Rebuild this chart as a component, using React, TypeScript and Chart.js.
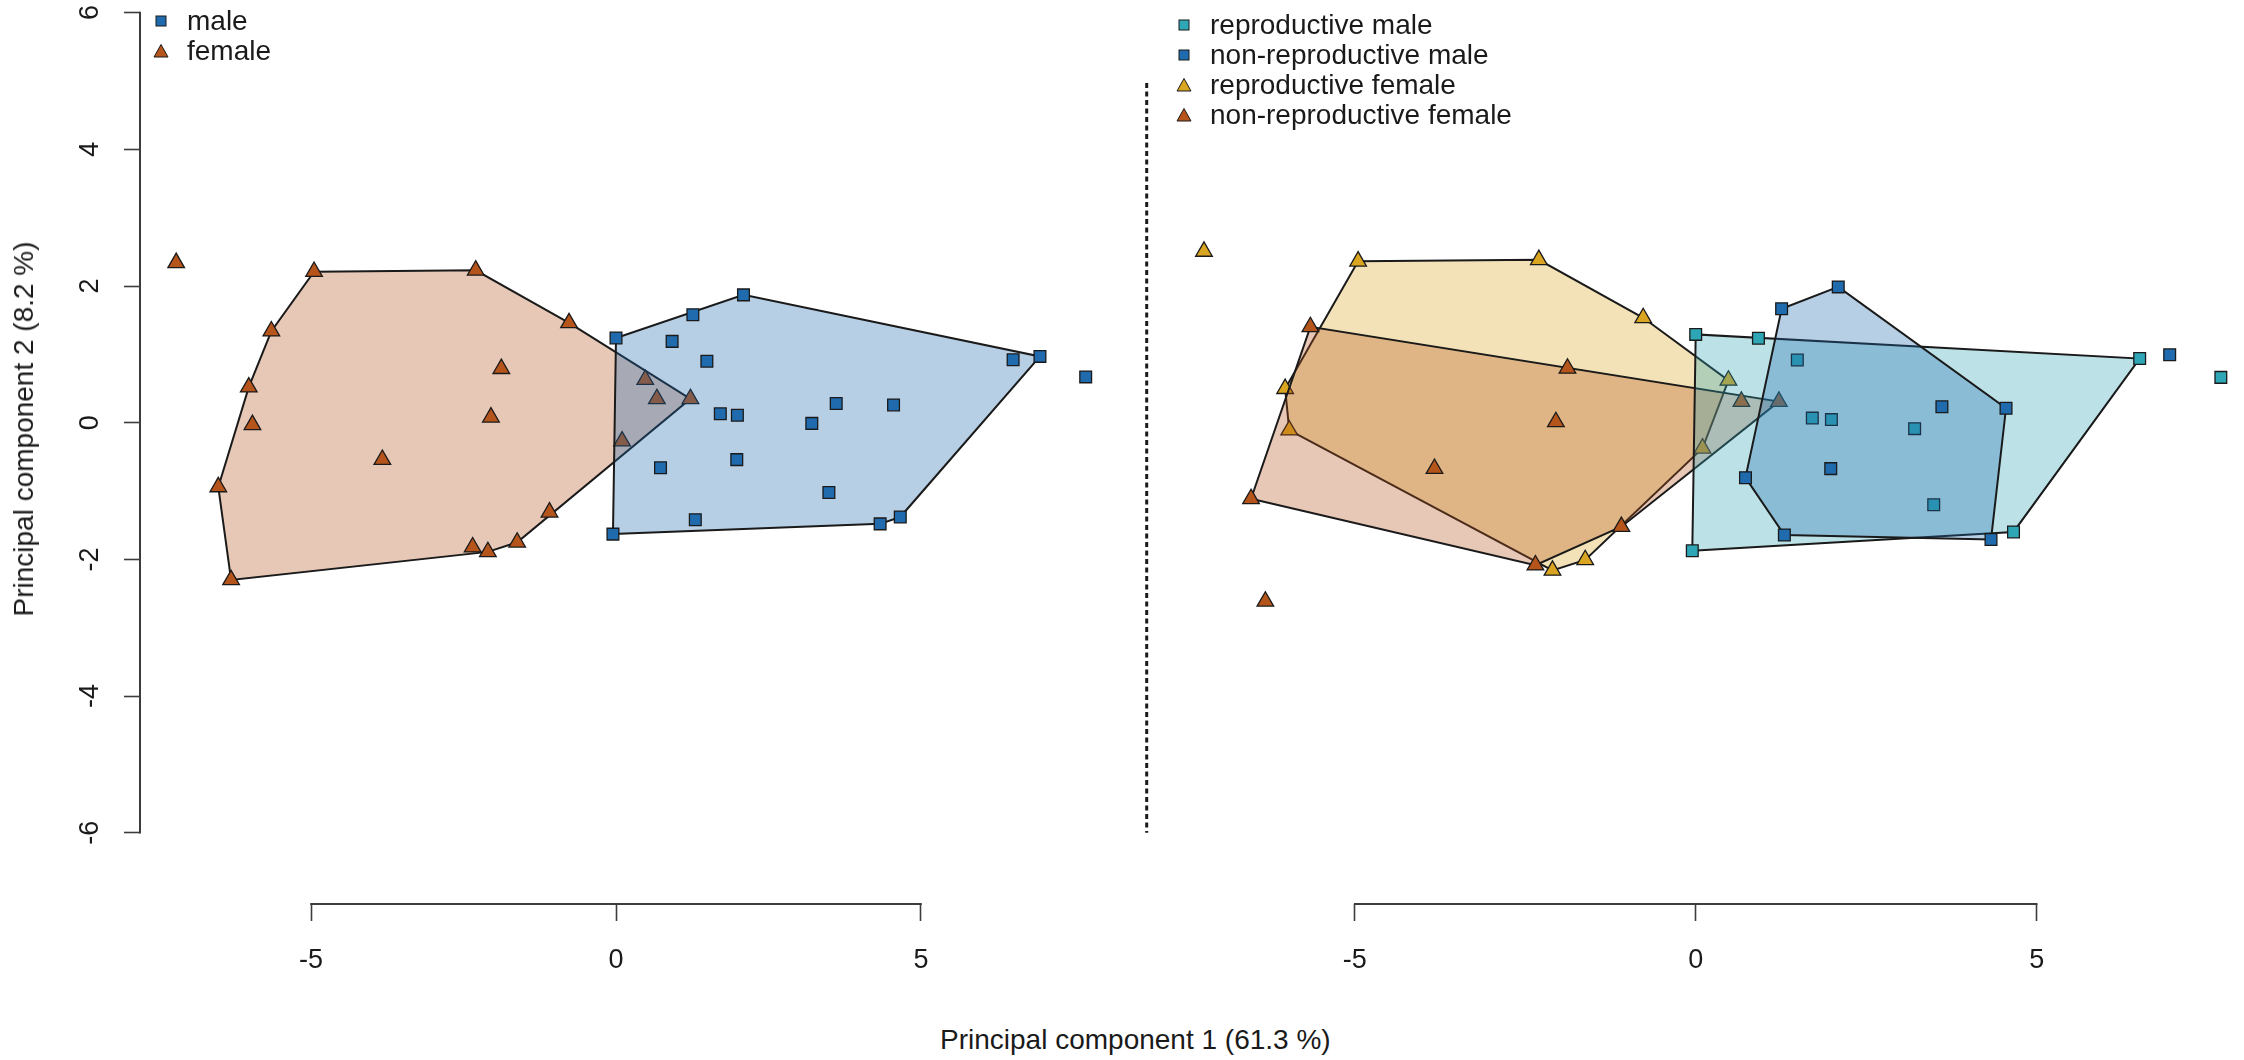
import { useEffect, useRef } from "react";
import { Chart, registerables, type ChartDataset, type Plugin } from "chart.js";

Chart.register(...registerables);

// PCA scores (PC1, PC2).
// The last point of every group lies outside that group's hull in the right panel.
const repMalePC1 = [0.0, 0.92, 1.49, 1.71, 1.99, 3.21, 3.49, 4.66, 6.51, -0.05, 7.7];
const repMalePC2 = [1.24, 1.19, 0.9, 0.13, 0.11, -0.01, -1.02, -1.38, 0.92, -1.63, 0.67];
const nonRepMalePC1 = [1.26, 2.09, 3.61, 4.55, 1.98, 0.73, 1.3, 4.33, 6.95];
const nonRepMalePC2 = [1.58, 1.87, 0.28, 0.26, -0.54, -0.66, -1.42, -1.48, 0.97];
const repFemalePC1 = [-4.95, -2.3, -0.77, -6.02, -5.96, 0.48, 0.1, -2.1, -1.62, -7.21];
const repFemalePC2 = [2.21, 2.23, 1.46, 0.52, -0.03, 0.63, -0.27, -1.89, -1.75, 2.34];
const nonRepFemalePC1 = [-5.65, -1.88, -2.05, -3.83, -6.52, -2.35, -1.09, 0.67, 1.22, -6.31];
const nonRepFemalePC2 = [1.34, 0.79, 0.08, -0.54, -0.94, -1.82, -1.31, 0.35, 0.35, -2.3];

const xTicks = [-5, 0, 5];
const yTicks = [-6, -4, -2, 0, 2, 4, 6];

// dashed separator, in left-panel units
const dividerPC1 = 8.7;
const dividerPC2 = [4.97, -6];

const leftLegend = ["male", "female"];
const rightLegend = ["reproductive male", "non-reproductive male", "reproductive female", "non-reproductive female"];

const FONT = '"Liberation Sans", Arial, Helvetica, sans-serif';
const INK = "#1a1a1a";
const AXIS = "#3c3c3c";

const BLUE = "#1F6BAD";
const TEAL = "#2FA6B6";
const GOLD = "#DAA520";
const BROWN = "#B5541B";

const CANVAS_H = 1000;
const AXIS_Y = 904;

interface Frame {
  left: number;
  width: number;
  x0: number;
  xUnit: number;
  y0: number;
  yUnit: number;
  axisLeft: number;
  showY: boolean;
}

const LEFT_FRAME: Frame = { left: 0, width: 1170, x0: 616, xUnit: 61, y0: 422.7, yUnit: 68.35, axisLeft: 140, showY: true };
const RIGHT_FRAME: Frame = { left: 1150, width: 1094, x0: 1695.7, xUnit: 68.2, y0: 427.9, yUnit: 75.4, axisLeft: 0, showY: false };

type Pt = { x: number; y: number };

function toPoints(xs: number[], ys: number[]): Pt[] {
  return xs.map((x, i) => ({ x, y: ys[i] }));
}

const core = (p: Pt[]) => p.slice(0, -1);

function convexHull(pts: Pt[]): Pt[] {
  const p = [...pts].sort((a, b) => a.x - b.x || a.y - b.y);
  const cross = (o: Pt, a: Pt, b: Pt) => (a.x - o.x) * (b.y - o.y) - (a.y - o.y) * (b.x - o.x);
  const lower: Pt[] = [];
  for (const q of p) {
    while (lower.length >= 2 && cross(lower[lower.length - 2], lower[lower.length - 1], q) <= 0) lower.pop();
    lower.push(q);
  }
  const upper: Pt[] = [];
  for (let i = p.length - 1; i >= 0; i--) {
    const q = p[i];
    while (upper.length >= 2 && cross(upper[upper.length - 2], upper[upper.length - 1], q) <= 0) upper.pop();
    upper.push(q);
  }
  const ring = lower.slice(0, -1).concat(upper.slice(0, -1));
  return [...ring, ring[0]];
}

function fade(hex: string, a: number) {
  const n = parseInt(hex.slice(1), 16);
  return `rgba(${n >> 16}, ${(n >> 8) & 255}, ${n & 255}, ${a})`;
}

function hullSet(members: Pt[], color: string, order: number): ChartDataset {
  return {
    type: "line",
    data: convexHull(members),
    borderColor: INK,
    borderWidth: 2,
    backgroundColor: fade(color, 0.32),
    fill: "shape",
    pointRadius: 0,
    tension: 0,
    order,
  } as ChartDataset;
}

function pointSet(members: Pt[], color: string, style: "rect" | "triangle", order: number): ChartDataset {
  return {
    type: "scatter",
    data: members,
    pointStyle: style,
    pointRadius: style === "rect" ? 8.3 : 9.6,
    backgroundColor: color,
    borderColor: INK,
    borderWidth: 1.3,
    order,
  } as ChartDataset;
}

const repMale = toPoints(repMalePC1, repMalePC2);
const nonRepMale = toPoints(nonRepMalePC1, nonRepMalePC2);
const repFemale = toPoints(repFemalePC1, repFemalePC2);
const nonRepFemale = toPoints(nonRepFemalePC1, nonRepFemalePC2);

// left: sexes pooled, only the reproductive strays stay outside the hulls
const leftDatasets: ChartDataset[] = [
  hullSet([...core(repFemale), ...nonRepFemale], BROWN, 6),
  pointSet([...repFemale, ...nonRepFemale], BROWN, "triangle", 5),
  hullSet([...core(repMale), ...nonRepMale], BLUE, 4),
  pointSet([...repMale, ...nonRepMale], BLUE, "rect", 3),
  {
    type: "line",
    data: dividerPC2.map((y) => ({ x: dividerPC1, y })),
    borderColor: INK,
    borderWidth: 3,
    borderDash: [5, 3.5],
    pointRadius: 0,
    fill: false,
    order: 1,
  } as ChartDataset,
];

const rightDatasets: ChartDataset[] = [
  hullSet(core(repFemale), GOLD, 8),
  pointSet(repFemale, GOLD, "triangle", 7),
  hullSet(core(nonRepFemale), BROWN, 6),
  pointSet(nonRepFemale, BROWN, "triangle", 5),
  hullSet(core(repMale), TEAL, 4),
  pointSet(repMale, TEAL, "rect", 3),
  hullSet(core(nonRepMale), BLUE, 2),
  pointSet(nonRepMale, BLUE, "rect", 1),
];

// R-style axis lines that run from the first to the last tick only
const axisLines: Plugin = {
  id: "axisLines",
  afterDraw(chart) {
    const { ctx, chartArea } = chart;
    const x = chart.scales.x;
    const y = chart.scales.y;
    ctx.save();
    ctx.strokeStyle = AXIS;
    ctx.lineWidth = 2;
    ctx.beginPath();
    ctx.moveTo(x.getPixelForValue(xTicks[0]) - 0.8, chartArea.bottom);
    ctx.lineTo(x.getPixelForValue(xTicks[xTicks.length - 1]) + 0.8, chartArea.bottom);
    if (y.options.display) {
      ctx.moveTo(chartArea.left, y.getPixelForValue(yTicks[yTicks.length - 1]) - 0.8);
      ctx.lineTo(chartArea.left, y.getPixelForValue(yTicks[0]) + 0.8);
    }
    ctx.stroke();
    ctx.restore();
  },
};

function zeroPadding(s: any) {
  s.paddingLeft = 0;
  s.paddingRight = 0;
  s.paddingTop = 0;
  s.paddingBottom = 0;
}

function scalesFor(f: Frame): any {
  const tickFont = { size: 27, family: FONT };
  return {
    x: {
      type: "linear",
      position: "bottom",
      min: (f.left + f.axisLeft - f.x0) / f.xUnit,
      max: (f.left + f.width - f.x0) / f.xUnit,
      afterBuildTicks: (s: any) => {
        s.ticks = xTicks.map((value) => ({ value }));
      },
      afterFit: (s: any) => {
        s.height = CANVAS_H - AXIS_Y;
        zeroPadding(s);
      },
      border: { display: false },
      grid: { drawOnChartArea: false, drawTicks: true, tickLength: 17, tickWidth: 1.6, tickColor: AXIS },
      ticks: { color: INK, font: tickFont, padding: 23, autoSkip: false, maxRotation: 0 },
    },
    y: {
      type: "linear",
      position: "left",
      display: f.showY,
      min: (f.y0 - AXIS_Y) / f.yUnit,
      max: f.y0 / f.yUnit,
      afterBuildTicks: (s: any) => {
        s.ticks = yTicks.map((value) => ({ value }));
      },
      afterFit: (s: any) => {
        s.width = f.axisLeft;
        zeroPadding(s);
      },
      border: { display: false },
      grid: { drawOnChartArea: false, drawTicks: true, tickLength: 16, tickWidth: 1.6, tickColor: AXIS },
      ticks: {
        color: INK,
        font: tickFont,
        padding: 21,
        minRotation: 90,
        maxRotation: 90,
        crossAlign: "center",
        autoSkip: false,
      },
    },
  };
}

function Panel({ frame, datasets }: { frame: Frame; datasets: ChartDataset[] }) {
  const canvasRef = useRef<HTMLCanvasElement>(null);

  useEffect(() => {
    const canvas = canvasRef.current;
    if (!canvas) return;
    const chart = new Chart(canvas, {
      type: "scatter",
      data: { datasets: datasets as any },
      options: {
        responsive: false,
        animation: false,
        events: [],
        layout: { padding: 0, autoPadding: false },
        plugins: { legend: { display: false }, tooltip: { enabled: false } },
        scales: scalesFor(frame),
      },
      plugins: [axisLines],
    });
    return () => chart.destroy();
  }, [frame, datasets]);

  return (
    <canvas
      ref={canvasRef}
      width={frame.width}
      height={CANVAS_H}
      style={{ position: "absolute", left: frame.left, top: 0, width: frame.width, height: CANVAS_H }}
    />
  );
}

function Marker({ shape, color }: { shape: "rect" | "triangle"; color: string }) {
  return (
    <svg width={20} height={20} style={{ flex: "none" }}>
      {shape === "rect" ? (
        <rect x={5} y={5} width={10} height={10} fill={color} stroke={INK} strokeWidth={1} />
      ) : (
        <polygon points="10,3.5 17,16 3,16" fill={color} stroke={INK} strokeWidth={1} />
      )}
    </svg>
  );
}

function LegendRow({ x, y, label, shape, color }: { x: number; y: number; label: string; shape: "rect" | "triangle"; color: string }) {
  return (
    <div
      style={{
        position: "absolute",
        left: x - 10,
        top: y - 15,
        height: 30,
        display: "flex",
        alignItems: "center",
        whiteSpace: "nowrap",
        fontSize: 28,
        lineHeight: "30px",
      }}
    >
      <Marker shape={shape} color={color} />
      <span style={{ marginLeft: 16 }}>{label}</span>
    </div>
  );
}

const leftMarks: ["rect" | "triangle", string][] = [
  ["rect", BLUE],
  ["triangle", BROWN],
];
const rightMarks: ["rect" | "triangle", string][] = [
  ["rect", TEAL],
  ["rect", BLUE],
  ["triangle", GOLD],
  ["triangle", BROWN],
];

export default function App() {
  return (
    <div
      style={{
        position: "absolute",
        left: 0,
        top: 0,
        width: 2244,
        height: 1060,
        overflow: "hidden",
        background: "#fff",
        fontFamily: FONT,
        color: INK,
      }}
    >
      <Panel frame={LEFT_FRAME} datasets={leftDatasets} />
      <Panel frame={RIGHT_FRAME} datasets={rightDatasets} />

      {leftLegend.map((label, i) => (
        <LegendRow key={label} x={161} y={21 + i * 29.5} label={label} shape={leftMarks[i][0]} color={leftMarks[i][1]} />
      ))}
      {rightLegend.map((label, i) => (
        <LegendRow key={label} x={1184} y={25 + i * 30} label={label} shape={rightMarks[i][0]} color={rightMarks[i][1]} />
      ))}

      <div
        style={{
          position: "absolute",
          left: 24,
          top: 429,
          transform: "translate(-50%, -50%) rotate(-90deg)",
          whiteSpace: "nowrap",
          fontSize: 28,
          lineHeight: "28px",
        }}
      >
        Principal component 2 (8.2 %)
      </div>
      <div
        style={{
          position: "absolute",
          left: 940,
          top: 1040,
          transform: "translateY(-50%)",
          whiteSpace: "nowrap",
          fontSize: 28,
          lineHeight: "28px",
        }}
      >
        Principal component 1 (61.3 %)
      </div>
    </div>
  );
}
